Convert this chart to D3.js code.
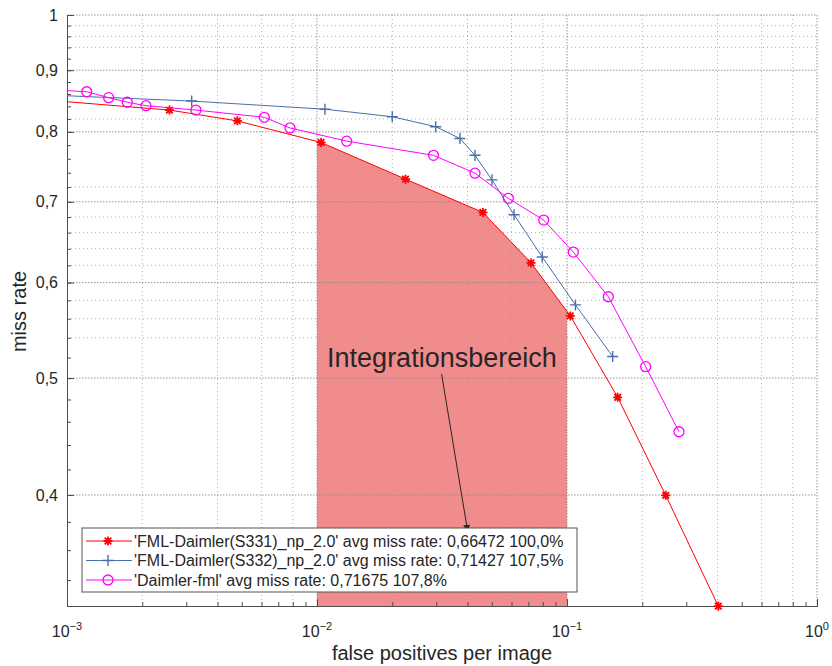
<!DOCTYPE html>
<html lang="en">
	<head>
		<meta charset="utf-8">
		<title>Miss rate vs. false positives per image</title>
		<script type="text/javascript" src="https://d3js.org/d3.v7.min.js"></script>
		<style type="text/css">
			body {
				background-color: white;
				font-family: "Liberation Sans", Arial, Helvetica, sans-serif;
				margin: 0;
			}
			svg {
				background-color: white;
				display: block;
			}
			text {
				fill: #262626;
			}
		</style>
	</head>
	<body>
		<script type="text/javascript">
			//Data (fppi, miss rate)
			var redFppi = [0.00078, 0.00257, 0.0048, 0.01038, 0.0226, 0.0461, 0.0718, 0.1031, 0.1595, 0.2483, 0.403];
			var redMiss = [0.851, 0.834, 0.817, 0.784, 0.731, 0.686, 0.623, 0.563, 0.482, 0.3997, 0.3235];

			var blueFppi = [0.00078, 0.003153, 0.01076, 0.0200, 0.02984, 0.0373, 0.04285, 0.0501, 0.0614, 0.0796, 0.1081, 0.1523];
			var blueMiss = [0.859, 0.8485, 0.8354, 0.8235, 0.808, 0.790, 0.765, 0.730, 0.683, 0.630, 0.575, 0.521];

			var magFppi = [0.00078, 0.001199, 0.001468, 0.001743, 0.00207, 0.00328, 0.006155, 0.0078, 0.01315, 0.02924, 0.04285, 0.05824, 0.0807, 0.106, 0.1463, 0.2064, 0.2805];
			var magMiss = [0.868, 0.8637, 0.854, 0.8466, 0.841, 0.834, 0.8226, 0.806, 0.786, 0.765, 0.7394, 0.7047, 0.676, 0.636, 0.584, 0.511, 0.4513];

			var legendLabels = [
				"'FML-Daimler(S331)_np_2.0' avg miss rate: 0,66472 100,0%",
				"'FML-Daimler(S332)_np_2.0' avg miss rate: 0,71427 107,5%",
				"'Daimler-fml' avg miss rate: 0,71675 107,8%"
			];

			//Ticks
			var xTicks = [0.001, 0.01, 0.1, 1];
			var xTickExp = ["\u22123", "\u22122", "\u22121", "0"];
			var yTicks = [0.4, 0.5, 0.6, 0.7, 0.8, 0.9, 1];
			var yTickLabels = ["0,4", "0,5", "0,6", "0,7", "0,8", "0,9", "1"];
			var yMinorGrid = [0.54, 0.56, 0.58, 0.62, 0.64, 0.66, 0.68, 0.72, 0.82, 0.94, 0.96, 0.98];
			var yMinorTicks = d3.range(17, 50).map(function(i) { return i * 0.02; });

			//Integration range and annotation
			var intRange = [0.01, 0.1];
			var annoText = "Integrationsbereich";
			var annoPos = [0.0316, 0.511];
			var arrowFrom = [0.0315, 0.504];
			var arrowTo = [0.0401, 0.3728];

			//Width and height
			var w = 832;
			var h = 666;
			var m = { left: 67, top: 15, right: 15, bottom: 60 };
			var pw = w - m.left - m.right;
			var ph = h - m.top - m.bottom;

			//Scales
			var x = d3.scaleLog().domain([0.001, 1]).range([m.left, m.left + pw]);
			var y = d3.scaleLog().domain([0.3236, 1]).range([m.top + ph, m.top]);

			var svg = d3.select("body")
					.append("svg")
					.attr("width", w)
					.attr("height", h);

			var defs = svg.append("defs");
			defs.append("clipPath").attr("id", "plotclip")
				.append("rect")
				.attr("x", m.left).attr("y", m.top)
				.attr("width", pw).attr("height", ph);
			defs.append("marker")
				.attr("id", "arrowhead")
				.attr("viewBox", "0 0 10 10")
				.attr("refX", 10).attr("refY", 5)
				.attr("markerWidth", 7).attr("markerHeight", 7)
				.attr("markerUnits", "userSpaceOnUse")
				.attr("orient", "auto")
				.append("path")
				.attr("d", "M0,0L10,5L0,10z")
				.attr("fill", "#262626");

			//Integration area under the red curve (interpolated in log-log space)
			function interpLog(xs, ys, xv) {
				for (var i = 0; i < xs.length - 1; i++) {
					if (xv >= xs[i] && xv <= xs[i + 1]) {
						var t = (Math.log(xv) - Math.log(xs[i])) / (Math.log(xs[i + 1]) - Math.log(xs[i]));
						return Math.exp(Math.log(ys[i]) + t * (Math.log(ys[i + 1]) - Math.log(ys[i])));
					}
				}
				return ys[ys.length - 1];
			}
			var area = [[intRange[0], interpLog(redFppi, redMiss, intRange[0])]];
			for (var i = 0; i < redFppi.length; i++) {
				if (redFppi[i] > intRange[0] && redFppi[i] < intRange[1]) area.push([redFppi[i], redMiss[i]]);
			}
			area.push([intRange[1], interpLog(redFppi, redMiss, intRange[1])]);
			area.push([intRange[1], y.domain()[0]]);
			area.push([intRange[0], y.domain()[0]]);

			svg.append("path")
				.attr("d", "M" + area.map(function(d) { return x(d[0]) + "," + y(d[1]); }).join("L") + "Z")
				.attr("fill", "rgb(227,26,28)")
				.attr("fill-opacity", 0.5);

			//Grid lines
			var xMajorGrid = xTicks.slice(1);
			var xMinorGrid = [];
			[0.001, 0.01, 0.1].forEach(function(dec) {
				[2, 4, 6, 8].forEach(function(k) { xMinorGrid.push(dec * k); });
			});
			var grid = svg.append("g").attr("class", "grid");
			grid.selectAll("line.xmin").data(xMinorGrid).enter().append("line")
				.attr("x1", function(d) { return x(d); }).attr("x2", function(d) { return x(d); })
				.attr("y1", m.top).attr("y2", m.top + ph)
				.attr("stroke", "#9a9a9a").attr("stroke-width", 0.8)
				.attr("stroke-dasharray", "1,3");
			grid.selectAll("line.ymin").data(yMinorGrid).enter().append("line")
				.attr("y1", function(d) { return y(d); }).attr("y2", function(d) { return y(d); })
				.attr("x1", m.left).attr("x2", m.left + pw)
				.attr("stroke", "#9a9a9a").attr("stroke-width", 0.8)
				.attr("stroke-dasharray", "1,3");
			grid.selectAll("line.xmaj").data(xMajorGrid).enter().append("line")
				.attr("x1", function(d) { return x(d); }).attr("x2", function(d) { return x(d); })
				.attr("y1", m.top).attr("y2", m.top + ph)
				.attr("stroke", "#8a8a8a").attr("stroke-width", 0.9)
				.attr("stroke-dasharray", "1.5,1.5");
			grid.selectAll("line.ymaj").data(yTicks).enter().append("line")
				.attr("y1", function(d) { return y(d); }).attr("y2", function(d) { return y(d); })
				.attr("x1", m.left).attr("x2", m.left + pw)
				.attr("stroke", "#8a8a8a").attr("stroke-width", 0.9)
				.attr("stroke-dasharray", "1.5,1.5");

			//Axes (ticks pointing inward, no labels from d3 - drawn separately)
			var xMinorTicks = [];
			[0.001, 0.01, 0.1].forEach(function(dec) {
				d3.range(2, 10).forEach(function(k) { xMinorTicks.push(dec * k); });
			});
			var xAxisMinor = d3.axisTop(x).tickValues(xMinorTicks).tickSize(4).tickFormat("");
			var xAxisMajor = d3.axisTop(x).tickValues(xTicks).tickSize(7).tickFormat("");
			var yAxisMinor = d3.axisRight(y).tickValues(yMinorTicks).tickSize(4).tickFormat("");
			var yAxisMajor = d3.axisRight(y).tickValues(yTicks).tickSize(7).tickFormat("");

			[xAxisMinor, xAxisMajor].forEach(function(ax) {
				svg.append("g")
					.attr("transform", "translate(0," + (m.top + ph) + ")")
					.call(ax)
					.call(function(g) { g.selectAll("path, line").attr("stroke", "#4d4d4d"); });
			});
			[yAxisMinor, yAxisMajor].forEach(function(ax) {
				svg.append("g")
					.attr("transform", "translate(" + m.left + ",0)")
					.call(ax)
					.call(function(g) { g.selectAll("path, line").attr("stroke", "#4d4d4d"); });
			});

			//Tick labels
			var xl = svg.selectAll("text.xtick").data(xTicks).enter().append("text")
				.attr("class", "xtick")
				.attr("x", function(d) { return x(d); })
				.attr("y", m.top + ph + 31)
				.attr("text-anchor", "middle")
				.style("font-size", "16px");
			xl.append("tspan").text("10");
			xl.append("tspan")
				.attr("dy", -7)
				.style("font-size", "11px")
				.text(function(d, i) { return xTickExp[i]; });

			svg.selectAll("text.ytick").data(yTicks).enter().append("text")
				.attr("class", "ytick")
				.attr("x", m.left - 9)
				.attr("y", function(d) { return y(d); })
				.attr("dy", "0.35em")
				.attr("text-anchor", "end")
				.style("font-size", "16px")
				.text(function(d, i) { return yTickLabels[i]; });

			//Axis titles
			svg.append("text")
				.attr("x", m.left + pw / 2)
				.attr("y", h - 6)
				.attr("text-anchor", "middle")
				.style("font-size", "20px")
				.text("false positives per image");
			svg.append("text")
				.attr("transform", "translate(26," + (m.top + ph / 2 + 1) + ") rotate(-90)")
				.attr("text-anchor", "middle")
				.style("font-size", "20px")
				.text("miss rate");

			//Series
			var series = [
				{ xs: redFppi, ys: redMiss, color: "#ff0000", marker: "star" },
				{ xs: blueFppi, ys: blueMiss, color: "#4a6ea8", marker: "plus" },
				{ xs: magFppi, ys: magMiss, color: "#ff00ff", marker: "circle" }
			];
			var line = d3.line()
				.x(function(d) { return x(d[0]); })
				.y(function(d) { return y(d[1]); });

			function drawMarker(g, type, color) {
				if (type == "circle") {
					g.append("circle").attr("r", 5)
						.attr("fill", "none").attr("stroke", color).attr("stroke-width", 1.3);
				} else if (type == "plus") {
					g.append("path").attr("d", "M-5.5,0H5.5M0,-5.5V5.5")
						.attr("stroke", color).attr("stroke-width", 1.4);
				} else {
					g.append("path").attr("d", "M-4.5,0H4.5M0,-4.5V4.5M-3.3,-3.3L3.3,3.3M-3.3,3.3L3.3,-3.3")
						.attr("stroke", color).attr("stroke-width", 1.8);
				}
			}

			series.forEach(function(s) {
				var pts = s.xs.map(function(v, i) { return [v, s.ys[i]]; });
				svg.append("path")
					.datum(pts)
					.attr("clip-path", "url(#plotclip)")
					.attr("d", line)
					.attr("fill", "none")
					.attr("stroke", s.color)
					.attr("stroke-width", 1);
				svg.selectAll(null)
					.data(pts.filter(function(d) { return d[0] >= 0.001; }))
					.enter().append("g")
					.attr("transform", function(d) { return "translate(" + x(d[0]) + "," + y(d[1]) + ")"; })
					.each(function() { drawMarker(d3.select(this), s.marker, s.color); });
			});

			//Annotation
			svg.append("line")
				.attr("x1", x(arrowFrom[0])).attr("y1", y(arrowFrom[1]))
				.attr("x2", x(arrowTo[0])).attr("y2", y(arrowTo[1]))
				.attr("stroke", "#262626").attr("stroke-width", 1)
				.attr("marker-end", "url(#arrowhead)");
			svg.append("text")
				.attr("x", x(annoPos[0]))
				.attr("y", y(annoPos[1]))
				.attr("text-anchor", "middle")
				.style("font-size", "27px")
				.text(annoText);

			//Legend
			var lg = svg.append("g").attr("transform", "translate(82,528)");
			lg.append("rect")
				.attr("width", 495).attr("height", 64)
				.attr("fill", "white").attr("stroke", "#555").attr("stroke-width", 1);
			series.forEach(function(s, i) {
				var ry = 13 + i * 19.5;
				lg.append("line")
					.attr("x1", 4).attr("x2", 50).attr("y1", ry).attr("y2", ry)
					.attr("stroke", s.color).attr("stroke-width", 1);
				drawMarker(lg.append("g").attr("transform", "translate(26," + ry + ")"), s.marker, s.color);
				lg.append("text")
					.attr("x", 52).attr("y", ry)
					.attr("dy", "0.35em")
					.style("font-size", "16px")
					.text(legendLabels[i]);
			});
		</script>
	</body>
</html>
